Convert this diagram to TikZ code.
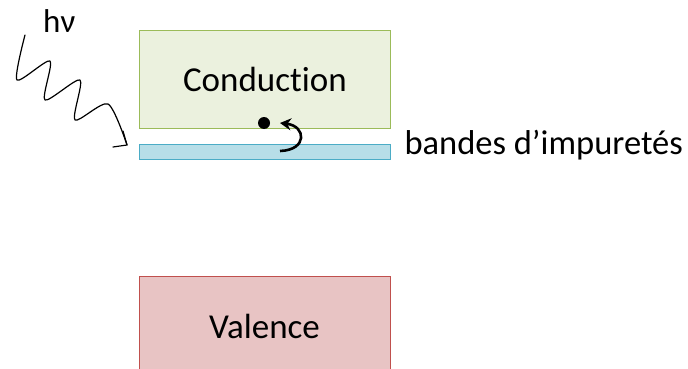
\documentclass[tikz,border=0pt]{standalone}
\usepackage{fontspec}
\setmainfont{Carlito}[RawFeature={-liga;-clig;-dlig;-hlig}]
\usetikzlibrary{arrows.meta}
\definecolor{cfill}{HTML}{EBF1DE}
\definecolor{cdraw}{HTML}{9BBB59}
\definecolor{ifill}{HTML}{B7DEE8}
\definecolor{idraw}{HTML}{4BACC6}
\definecolor{vfill}{HTML}{E8C4C4}
\definecolor{vdraw}{HTML}{C0504D}
\tikzset{
  band/.style={minimum width=251pt, inner sep=0pt, line width=0.8pt, anchor=north west},
  bigtxt/.style={font=\fontsize{35}{35}\selectfont},
  medtxt/.style={font=\fontsize{34.5}{35}\selectfont},
  smalltxt/.style={font=\fontsize{33}{33}\selectfont},
  arr/.style={line width=2.6pt, -{Stealth[length=11pt,width=12pt]}},
  wave/.style={line width=1.2pt, line join=round, line cap=round},
}
\begin{document}
\begin{tikzpicture}[x=1pt,y=-1pt]
\useasboundingbox (0,0) rectangle (688,369);
\node[band, draw=cdraw, fill=cfill, minimum height=98pt, bigtxt] (cond) at (139,30) {Conduction};
\node[band, draw=idraw, fill=ifill, minimum height=15pt] (imp) at (139,144) {};
\fill[vfill] (139,276) rectangle (390,369);
\draw[vdraw, line width=0.8pt] (139,369) -- (139,276) -- (390,276) -- (390,369);
\node[bigtxt] (val) at (264.5,326) {Valence};
\node[medtxt, anchor=west] (lab) at (401,145) {bandes d’impuretés};
\node[smalltxt, anchor=base west, inner sep=0pt] (hv) at (43,33) {hν};
\coordinate (tip) at (127,145);
\draw[wave] plot[smooth, tension=0.45] coordinates {(25,35) (17,80) (50,61) (45,100) (80,80) (75,120) (108,104) (tip)};
\draw[wave] (113,147) -- (tip) -- (123,131);
\fill (264,123) circle (6pt);
\coordinate (e1) at (280,151);
\coordinate (e2) at (280,123);
\draw[arr] (e1) .. controls (308,150) and (306,126) .. (e2);
\end{tikzpicture}
\end{document}
